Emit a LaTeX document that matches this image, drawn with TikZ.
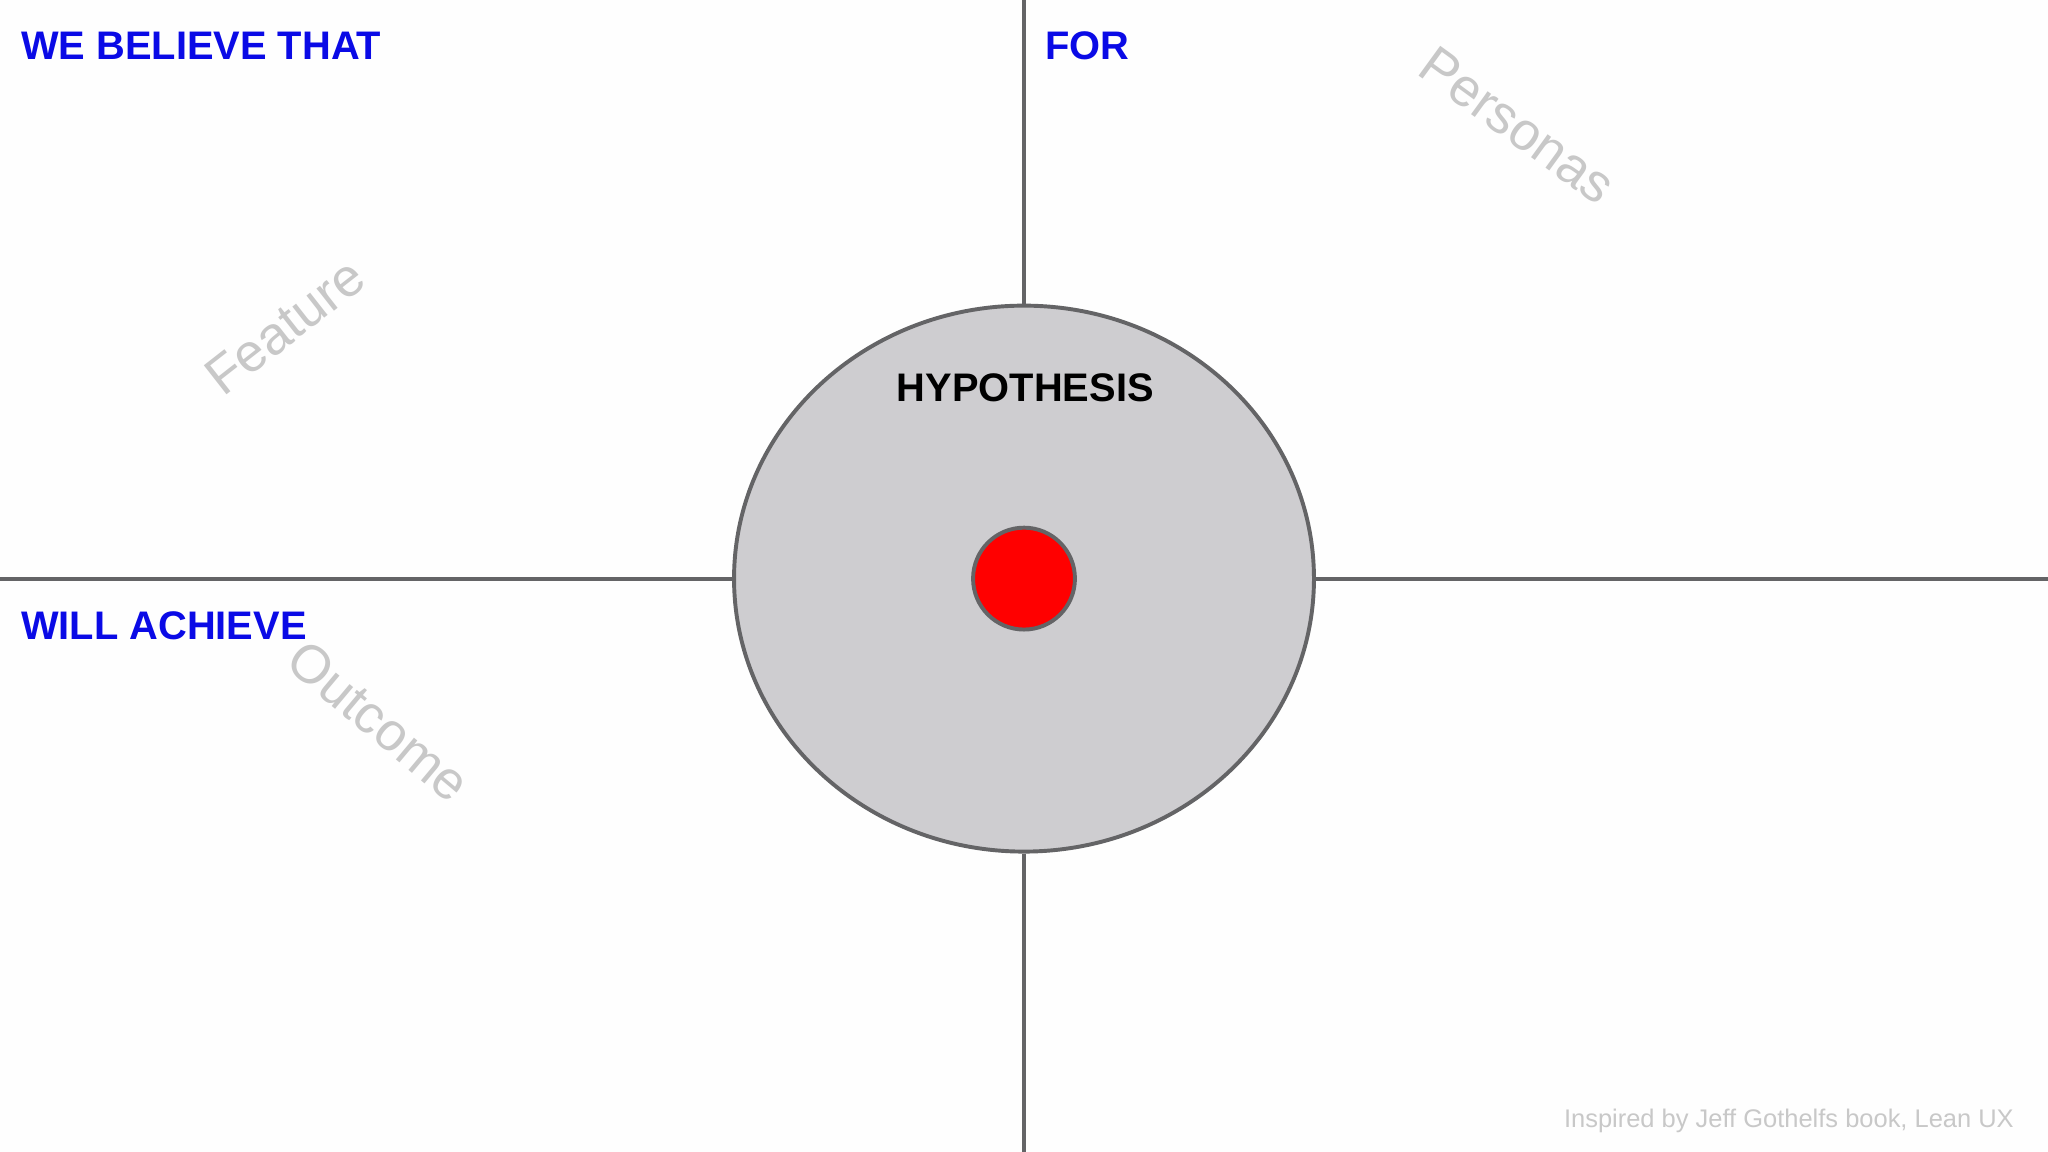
\documentclass[tikz,border=0pt]{standalone}
\usepackage{fontspec}
\usetikzlibrary{shapes.geometric}
\setmainfont{Liberation Sans}
\definecolor{hblue}{RGB}{10,10,230}
\definecolor{lgray}{RGB}{200,200,200}
\definecolor{dline}{RGB}{100,100,102}
\definecolor{efill}{RGB}{206,205,208}
\begin{document}
\begin{tikzpicture}[x=1pt,y=-1pt,
  head/.style={anchor=west,text=hblue,font=\fontsize{30.5}{32}\selectfont\bfseries,inner sep=0},
  ghost/.style={text=lgray,font=\fontsize{41}{43}\selectfont,inner sep=0},
  axis/.style={draw=dline,line width=3pt}]
\fill[white!99!gray] (0,0) rectangle (1568,882);
\useasboundingbox (0,0) rectangle (1568,882);
\coordinate (t) at (784,0);
\coordinate (b) at (784,882);
\coordinate (l) at (0,443);
\coordinate (r) at (1568,443);
\node[ellipse,minimum width=444,minimum height=418,fill=efill,draw=dline,line width=3pt,inner sep=0] (e) at (784,443) {};
\draw[axis] (t) -- (e.north);
\draw[axis] (e.south) -- (b);
\draw[axis] (l) -- (e.west);
\draw[axis] (e.east) -- (r);
\node[circle,minimum size=78,fill=red,draw=dline,line width=3pt,inner sep=0] (dot) at (784,443) {};
\node[font=\fontsize{30.5}{32}\selectfont\bfseries,inner sep=0] (hyp) at (785,297) {HYPOTHESIS};
\node[head] (we) at (16,35) {WE BELIEVE THAT};
\node[head] (for) at (800,35) {FOR};
\node[head] (will) at (16,479) {WILL ACHIEVE};
\node[ghost,rotate=38] (feat) at (218,250) {Feature};
\node[ghost,rotate=-36] (pers) at (1162,96) {Personas};
\node[ghost,rotate=-40] (out) at (290,552) {Outcome};
\node[anchor=east,text=lgray,font=\fontsize{19.5}{21}\selectfont,inner sep=0] (foot) at (1542,858) {Inspired by Jeff Gothelfs book, Lean UX};
\end{tikzpicture}
\end{document}
